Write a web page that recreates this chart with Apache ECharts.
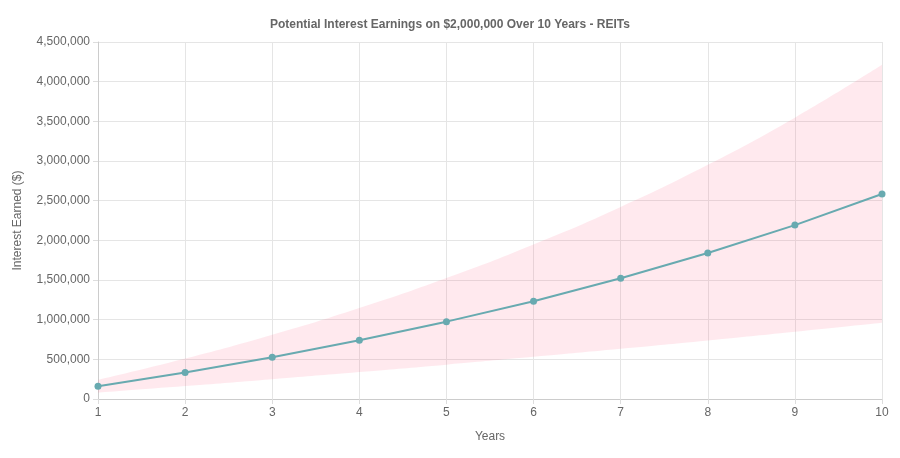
<!DOCTYPE html>
<html><head><meta charset="utf-8">
<script src="https://cdn.jsdelivr.net/npm/echarts@6/dist/echarts.min.js"></script>
<style>html,body{margin:0;padding:0;background:#fff}#c{width:900px;height:458px}</style>
</head><body><div id="c"></div>
<script>
const years = ['1','2','3','4','5','6','7','8','9','10'];
const expected = [160000,333000,527000,740000,975000,1232000,1522000,1840000,2192000,2584000];
const high = [240000,509000,810000,1147000,1525000,1948000,2421000,2952000,3546000,4212000];
const low = [80000,163000,250000,340000,433000,531000,632000,737000,847000,960000];

const chart = echarts.init(document.getElementById('c'));
chart.setOption({
  animation:false,
  title:{text:'Potential Interest Earnings on $2,000,000 Over 10 Years - REITs',left:'center',top:14,
    textStyle:{fontSize:12,fontWeight:'bold',color:'#666',fontFamily:'Helvetica, Arial, sans-serif'}},
  grid:{left:98,right:18,top:42,bottom:59},
  xAxis:{type:'category',data:years,boundaryGap:false,name:'Years',nameLocation:'middle',nameGap:32,
    nameTextStyle:{color:'#666',fontSize:12},
    axisLine:{lineStyle:{color:'#ccc'}},axisTick:{show:true,lineStyle:{color:'#ddd'}},
    axisLabel:{color:'#666',fontSize:12},splitLine:{show:true,lineStyle:{color:'#e5e5e5'}}},
  yAxis:{type:'value',min:0,max:4500000,interval:500000,name:'Interest Earned ($)',nameLocation:'middle',nameGap:74,
    nameTextStyle:{color:'#666',fontSize:12},
    axisLine:{show:true,lineStyle:{color:'#ccc'}},axisTick:{show:true,lineStyle:{color:'#ddd'}},
    axisLabel:{color:'#666',fontSize:12,formatter:v=>v.toLocaleString('en-US')},
    splitLine:{lineStyle:{color:'#e5e5e5'}}},
  series:[
    {type:'line',data:low,stack:'b',smooth:true,symbol:'none',lineStyle:{width:0},silent:true},
    {type:'line',data:high.map((h,i)=>h-low[i]),stack:'b',smooth:true,symbol:'none',
      lineStyle:{width:0},areaStyle:{color:'rgba(255,99,132,0.2)'},silent:true},
    {type:'line',data:expected,symbol:'circle',symbolSize:7,
      lineStyle:{color:'rgb(104,170,176)',width:2},itemStyle:{color:'rgb(104,170,176)'}}
  ]
});
</script></body></html>
